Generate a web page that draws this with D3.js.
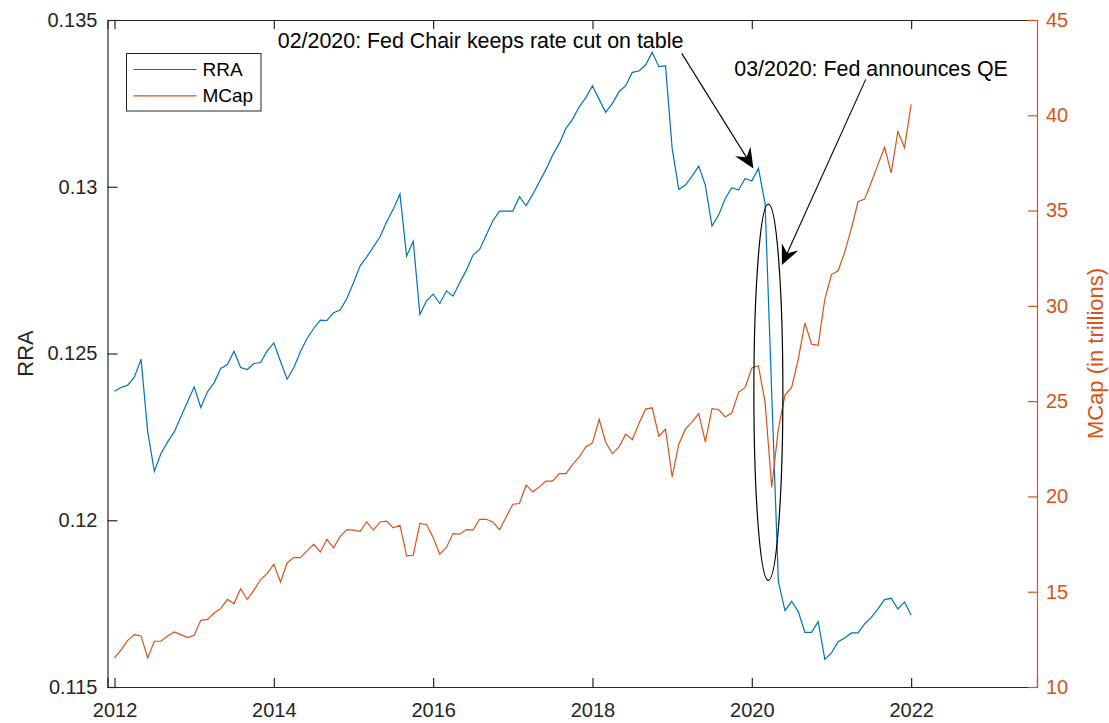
<!DOCTYPE html>
<html>
<head>
<meta charset="utf-8">
<script src="https://cdn.jsdelivr.net/npm/d3@7"></script>
<style>
  body { margin: 0; background: #fff; }
  text { font-family: "Liberation Sans", Arial, Helvetica, sans-serif; }
</style>
</head>
<body>
<div id="chart"></div>
<script>
// monthly data, Jan 2012 .. Jan 2022
const startYear = 2012;
const rra = [
  0.12387, 0.12398, 0.12405, 0.12430, 0.12483, 0.12265, 0.12147, 0.12200, 0.12235, 0.12265, 0.12310, 0.12355,
  0.12400, 0.12338, 0.12385, 0.12412, 0.12455, 0.12467, 0.12507, 0.12458, 0.12452, 0.12470, 0.12473, 0.12508,
  0.12532, 0.12477, 0.12423, 0.12457, 0.12505, 0.12545, 0.12575, 0.12600, 0.12599, 0.12622, 0.12630, 0.12665,
  0.12712, 0.12763, 0.12790, 0.12820, 0.12850, 0.12895, 0.12933, 0.12978, 0.12792, 0.12837, 0.12617, 0.12658,
  0.12678, 0.12650, 0.12688, 0.12672, 0.12712, 0.12750, 0.12795, 0.12812, 0.12855, 0.12898, 0.12927, 0.12927,
  0.12927, 0.12970, 0.12943, 0.12977, 0.13015, 0.13052, 0.13095, 0.13130, 0.13175, 0.13202, 0.13240, 0.13267,
  0.13303, 0.13262, 0.13223, 0.13250, 0.13285, 0.13303, 0.13343, 0.13347, 0.13365, 0.13403, 0.13360, 0.13362,
  0.13115, 0.12992, 0.13005, 0.13032, 0.13062, 0.13005, 0.12882, 0.12915, 0.12965, 0.12997, 0.12990, 0.13025,
  0.13017, 0.13055, 0.12950, 0.12380, 0.11816, 0.11729, 0.11757, 0.11726, 0.11664, 0.11664, 0.11696, 0.11583,
  0.11602, 0.11636, 0.11647, 0.11662, 0.11662, 0.11689, 0.11709, 0.11734, 0.11762, 0.11766, 0.11734, 0.11755,
  0.11715
];
const mcap = [
  11.52, 11.96, 12.45, 12.75, 12.68, 11.52, 12.40, 12.40, 12.68, 12.89, 12.75, 12.59,
  12.71, 13.50, 13.55, 13.88, 14.11, 14.60, 14.38, 15.16, 14.59, 15.08, 15.64, 15.95,
  16.44, 15.51, 16.51, 16.79, 16.79, 17.14, 17.49, 17.09, 17.75, 17.30, 17.91, 18.26,
  18.23, 18.17, 18.66, 18.23, 18.66, 18.70, 18.35, 18.49, 16.88, 16.91, 18.58, 18.53,
  17.84, 16.97, 17.32, 18.05, 18.02, 18.26, 18.23, 18.80, 18.80, 18.66, 18.26, 18.92,
  19.59, 19.63, 20.59, 20.24, 20.50, 20.81, 20.80, 21.20, 21.20, 21.67, 22.07, 22.60,
  22.81, 24.05, 22.83, 22.25, 22.60, 23.27, 22.99, 23.83, 24.58, 24.65, 23.16, 23.53,
  21.02, 22.74, 23.53, 23.91, 24.35, 22.86, 24.61, 24.56, 24.17, 24.39, 25.46, 25.72,
  26.74, 26.86, 24.92, 20.48, 23.54, 25.32, 25.72, 27.20, 29.11, 27.99, 27.93, 30.36,
  31.64, 31.84, 32.83, 34.05, 35.46, 35.60, 36.49, 37.41, 38.32, 36.98, 39.15, 38.30,
  40.57
];
const xTicks = [2012, 2014, 2016, 2018, 2020, 2022];
const leftTicks = [0.115, 0.12, 0.125, 0.13, 0.135];
const rightTicks = [10, 15, 20, 25, 30, 35, 40, 45];
const seriesNames = ['RRA', 'MCap'];

// annotations in data units (year, RRA)
const notes = [
  { text: '02/2020: Fed Chair keeps rate cut on table', tx: 2014.05, ty: 0.134150,
    from: [2019.12, 0.13400], to: [2020.02, 0.13055] },
  { text: '03/2020: Fed announces QE', tx: 2019.78, ty: 0.133335,
    from: [2021.43, 0.13322], to: [2020.377, 0.12765] }
];
const ellipse = { cx: 2020.208, cy: 0.12384, rx: 0.182, ry: 0.00564 };

const width = 1109;
const height = 723;
const blue = '#0072BD';
const orange = '#D95319';
const axisColor = '#262626';

const svg = d3.select('#chart').append('svg')
  .attr('width', width)
  .attr('height', height);

const mLeft = 107.5, mRight = 1037, mTop = 20, mBottom = 687;

const x = d3.scaleLinear().domain([2011.912, 2023.58]).range([mLeft, mRight]);
const yL = d3.scaleLinear().domain([0.115, 0.135]).range([mBottom, mTop]);
const yR = d3.scaleLinear().domain([10, 45]).range([mBottom, mTop]);

const dates = rra.map((d, i) => startYear + i / 12);

// axes
const xAxisB = d3.axisBottom(x).tickValues(xTicks).tickFormat(d3.format('d')).tickSize(-9).tickPadding(16);
const gxb = svg.append('g').attr('transform', `translate(0,${mBottom})`).call(xAxisB);
const gxt = svg.append('g').attr('transform', `translate(0,${mTop})`)
  .call(d3.axisTop(x).tickValues(xTicks).tickFormat('').tickSize(-9));
const gyl = svg.append('g').attr('transform', `translate(${mLeft},0)`)
  .call(d3.axisLeft(yL).tickValues(leftTicks).tickFormat(d3.format('')).tickSize(-10).tickPadding(10));
const gyr = svg.append('g').attr('transform', `translate(${mRight},0)`)
  .call(d3.axisRight(yR).tickValues(rightTicks).tickSize(-9).tickPadding(9));

[gxb, gxt, gyl].forEach(g => {
  g.selectAll('path').attr('stroke', axisColor).attr('stroke-width', 1.2);
  g.selectAll('line').attr('stroke', axisColor).attr('stroke-width', 1.2);
  g.selectAll('text').attr('fill', axisColor).style('font-size', '20px');
});
gxt.select('path').attr('stroke-width', 1);
gyr.selectAll('path').attr('stroke', orange).attr('stroke-width', 1.2);
gyr.selectAll('line').attr('stroke', orange).attr('stroke-width', 1.2);
gyr.selectAll('text').attr('fill', orange).style('font-size', '20px');
gxb.selectAll('text').attr('dy', '0.71em');

// axis labels
svg.append('text')
  .attr('transform', `translate(33,${(mTop + mBottom) / 2}) rotate(-90)`)
  .attr('text-anchor', 'middle')
  .attr('fill', axisColor)
  .style('font-size', '22px')
  .text('RRA');
svg.append('text')
  .attr('transform', `translate(1103,${(mTop + mBottom) / 2}) rotate(-90)`)
  .attr('text-anchor', 'middle')
  .attr('fill', orange)
  .style('font-size', '22px')
  .text('MCap (in trillions)');

// lines
const lineL = d3.line().x((d, i) => x(dates[i])).y(d => yL(d));
const lineR = d3.line().x((d, i) => x(dates[i])).y(d => yR(d));

svg.append('path').datum(rra)
  .attr('d', lineL).attr('fill', 'none').attr('stroke', blue).attr('stroke-width', 1.2);
svg.append('path').datum(mcap)
  .attr('d', lineR).attr('fill', 'none').attr('stroke', orange).attr('stroke-width', 1.2);

// ellipse
svg.append('ellipse')
  .attr('cx', x(ellipse.cx))
  .attr('cy', yL(ellipse.cy))
  .attr('rx', x(ellipse.cx + ellipse.rx) - x(ellipse.cx))
  .attr('ry', yL(ellipse.cy - ellipse.ry) - yL(ellipse.cy))
  .attr('fill', 'none').attr('stroke', '#000').attr('stroke-width', 1.2);

// annotation arrows
notes.forEach(n => {
  const x0 = x(n.from[0]), y0 = yL(n.from[1]);
  const x1 = x(n.to[0]), y1 = yL(n.to[1]);
  const len = Math.hypot(x1 - x0, y1 - y0);
  const ux = (x1 - x0) / len, uy = (y1 - y0) / len;
  const px = -uy, py = ux;
  const L = 20, W = 9, N = 13;
  svg.append('line')
    .attr('x1', x0).attr('y1', y0)
    .attr('x2', x1 - ux * N).attr('y2', y1 - uy * N)
    .attr('stroke', '#000').attr('stroke-width', 1.1);
  const head = [
    [x1, y1],
    [x1 - ux * L + px * W, y1 - uy * L + py * W],
    [x1 - ux * N, y1 - uy * N],
    [x1 - ux * L - px * W, y1 - uy * L - py * W]
  ];
  svg.append('path').attr('d', 'M' + head.join('L') + 'Z').attr('fill', '#000');
  svg.append('text')
    .attr('x', x(n.tx)).attr('y', yL(n.ty))
    .attr('fill', '#000')
    .style('font-size', '21.4px')
    .text(n.text);
});

// legend
const lg = svg.append('g').attr('transform', 'translate(126.5,53.5)');
lg.append('rect').attr('width', 134.5).attr('height', 57.5)
  .attr('fill', '#fff').attr('stroke', axisColor).attr('stroke-width', 1);
[blue, orange].forEach((c, i) => {
  const yy = 16 + i * 26.3;
  lg.append('line').attr('x1', 7).attr('x2', 70).attr('y1', yy).attr('y2', yy)
    .attr('stroke', c).attr('stroke-width', 1.2);
  lg.append('text').attr('x', 76).attr('y', yy).attr('dy', '0.35em')
    .attr('fill', '#000').style('font-size', '19px').text(seriesNames[i]);
});
</script>
</body>
</html>
